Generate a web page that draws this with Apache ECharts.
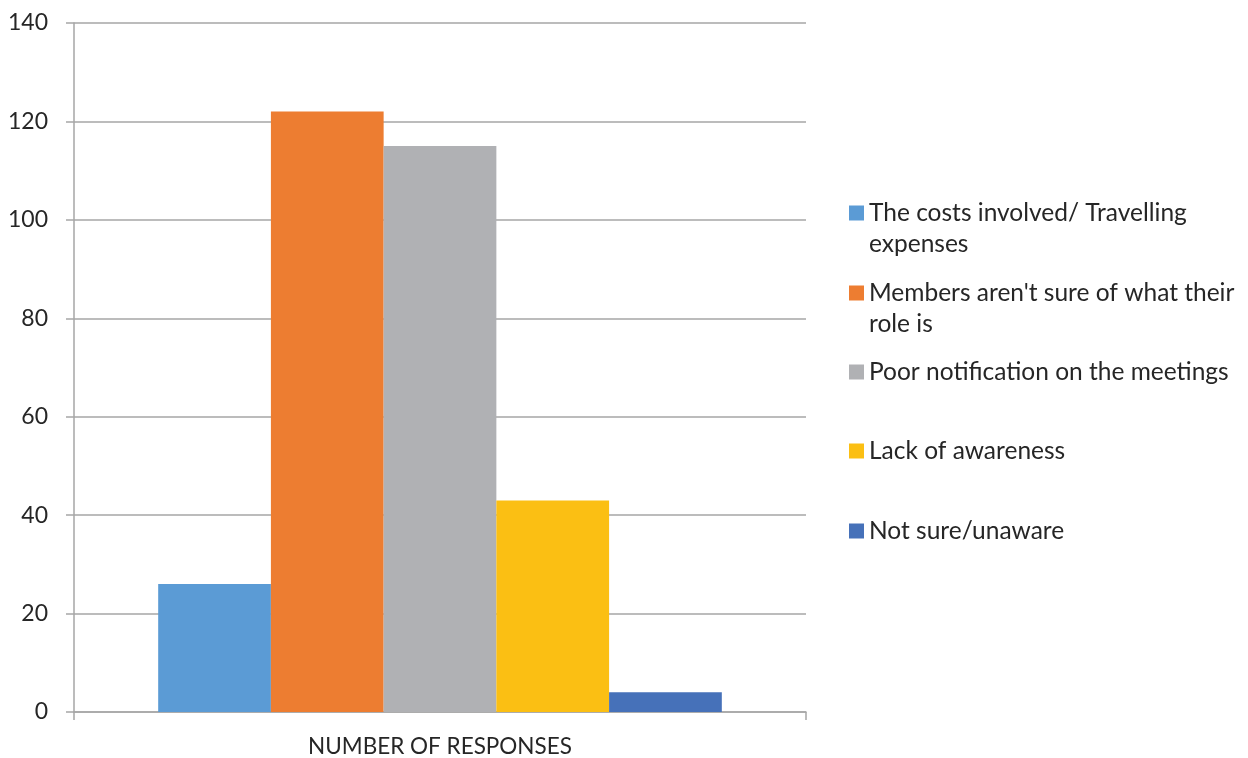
<!DOCTYPE html>
<html>
<head>
<meta charset="utf-8">
<script src="https://cdn.jsdelivr.net/npm/echarts@6/dist/echarts.min.js"></script>
<style>
  html, body { margin: 0; padding: 0; background: #fff; }
  #chart { width: 1248px; height: 758px; }
</style>
</head>
<body>
<div id="chart"></div>
<script>
// Survey: reasons given, counted as number of responses
const categories = ['NUMBER OF RESPONSES'];
const seriesNames = [
  'The costs involved/ Travelling expenses',
  "Members aren't sure of what their role is",
  'Poor notification on the meetings',
  'Lack of awareness',
  'Not sure/unaware'
];
// Legend wording split where it wraps: first line beside the swatch, rest beneath
const legendFirstLines = [
  'The costs involved/ Travelling',
  "Members aren't sure of what their",
  'Poor notification on the meetings',
  'Lack of awareness',
  'Not sure/unaware'
];
const legendSecondLines = ['expenses', 'role is', '', '', ''];
const costsValues = [26];
const roleValues = [122];
const notificationValues = [115];
const awarenessValues = [43];
const unsureValues = [4];
const seriesValues = [costsValues, roleValues, notificationValues, awarenessValues, unsureValues];
const colors = ['#5b9bd5', '#ed7d31', '#b0b1b4', '#fbbf13', '#4671b9'];
const yTicks = { min: 0, max: 140, interval: 20 };

const FONT = 'Lato';
const axisGrey = '#a6a6a6';
const textColor = '#262626';
const legendFontSize = 24.5;
const legendLeft = 849;
const swatch = 15;
const lineStep = 31;

// One legend block per series so each sits at its own row;
// the row box is as tall as the text, so its top sits half a line above the centre
const legendRowCenters = [212, 292, 371, 450, 530];
const legends = seriesNames.map((name, i) => ({
  data: [name],
  orient: 'vertical',
  left: legendLeft,
  top: legendRowCenters[i] - 11.5,
  padding: 0,
  itemWidth: swatch,
  itemHeight: swatch,
  icon: 'rect',
  selectedMode: false,
  formatter: () => legendFirstLines[i],
  textStyle: { fontFamily: FONT, fontSize: legendFontSize, color: textColor }
}));

// Continuation lines of the wrapped legend entries
const continuation = [];
legendSecondLines.forEach((txt, i) => {
  if (!txt) return;
  continuation.push({
    type: 'text',
    left: legendLeft + swatch + 5,
    top: legendRowCenters[i] + lineStep - legendFontSize * 0.5 + 1,
    style: { text: txt, font: legendFontSize + 'px ' + FONT, fill: textColor }
  });
});

const chart = echarts.init(document.getElementById('chart'), null, { renderer: 'canvas' });
chart.setOption({
  backgroundColor: '#ffffff',
  animation: false,
  color: colors,
  legend: legends,
  graphic: continuation,
  grid: { left: 74, right: 442, top: 23, bottom: 46, containLabel: false },
  xAxis: {
    type: 'category',
    data: categories,
    boundaryGap: true,
    axisLine: { show: true, lineStyle: { color: axisGrey, width: 1.5 } },
    axisTick: { show: true, length: 8, alignWithLabel: false, lineStyle: { color: axisGrey, width: 1.5 } },
    axisLabel: { fontFamily: FONT, fontSize: 22.5, color: textColor, margin: 23 }
  },
  yAxis: {
    type: 'value',
    min: yTicks.min,
    max: yTicks.max,
    interval: yTicks.interval,
    axisLine: { show: true, lineStyle: { color: axisGrey, width: 1.5 } },
    axisTick: { show: true, length: 8, lineStyle: { color: axisGrey, width: 1.5 } },
    splitLine: { show: true, lineStyle: { color: axisGrey, width: 1.5 } },
    axisLabel: { fontFamily: FONT, fontSize: 23, color: textColor, margin: 26 }
  },
  series: seriesNames.map((name, i) => ({
    name: name,
    type: 'bar',
    data: seriesValues[i],
    barGap: '0%',
    barCategoryGap: '23%',
    itemStyle: { color: colors[i] }
  }))
});
</script>
</body>
</html>
